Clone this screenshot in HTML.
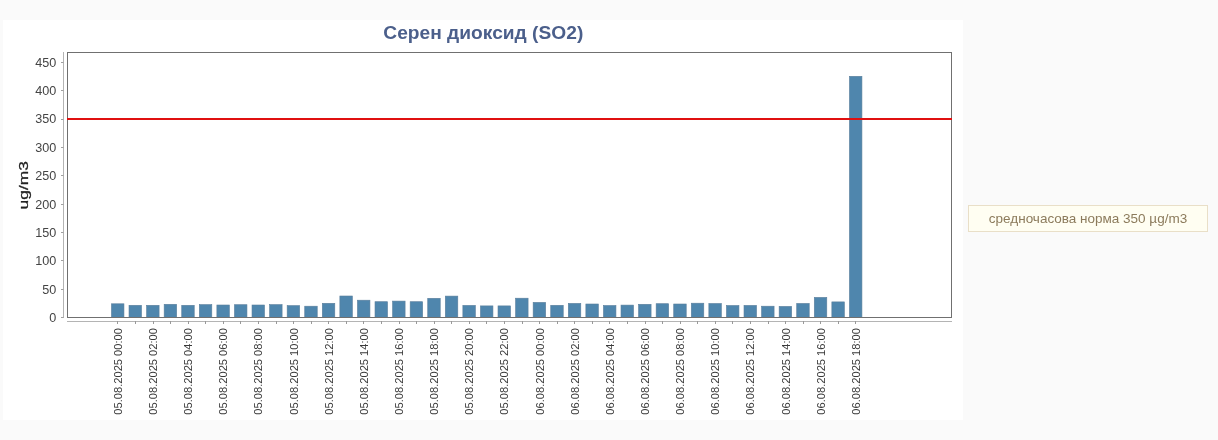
<!DOCTYPE html>
<html lang="bg">
<head>
<meta charset="utf-8">
<title>Серен диоксид (SO2)</title>
<style>
html,body{margin:0;padding:0;}
body{width:1218px;height:440px;overflow:hidden;background:#fafafa;position:relative;font-family:"Liberation Sans",sans-serif;}
#chart{position:absolute;left:3px;top:20px;width:960px;height:400px;background:#fff;}
svg{position:absolute;left:0;top:0;will-change:transform;}
svg text{font-family:"Liberation Sans",sans-serif;}
#legend{position:absolute;left:968px;top:205px;width:238px;height:25px;border:1px solid #e9dfc8;background:#fffef2;color:#8c7b5c;font-size:13.5px;line-height:25px;text-align:center;white-space:nowrap;will-change:transform;}
</style>
</head>
<body>
<div id="chart"></div>
<svg width="1218" height="440" viewBox="0 0 1218 440">
<text x="383.3" y="38.6" textLength="200" lengthAdjust="spacingAndGlyphs" font-size="17.5" font-weight="bold" fill="#4b5f8b">Серен диоксид (SO2)</text>
<g fill="#4f86ad" stroke="#5b7f9c" stroke-width="0.6">
<rect x="111.45" y="303.80" width="12.5" height="13.70"/>
<rect x="129.02" y="305.30" width="12.5" height="12.20"/>
<rect x="146.59" y="305.30" width="12.5" height="12.20"/>
<rect x="164.16" y="304.30" width="12.5" height="13.20"/>
<rect x="181.73" y="305.30" width="12.5" height="12.20"/>
<rect x="199.31" y="304.60" width="12.5" height="12.90"/>
<rect x="216.88" y="305.00" width="12.5" height="12.50"/>
<rect x="234.45" y="304.70" width="12.5" height="12.80"/>
<rect x="252.02" y="305.00" width="12.5" height="12.50"/>
<rect x="269.59" y="304.60" width="12.5" height="12.90"/>
<rect x="287.16" y="305.60" width="12.5" height="11.90"/>
<rect x="304.73" y="306.20" width="12.5" height="11.30"/>
<rect x="322.30" y="303.30" width="12.5" height="14.20"/>
<rect x="339.87" y="296.00" width="12.5" height="21.50"/>
<rect x="357.44" y="300.20" width="12.5" height="17.30"/>
<rect x="375.01" y="301.70" width="12.5" height="15.80"/>
<rect x="392.59" y="301.10" width="12.5" height="16.40"/>
<rect x="410.16" y="301.70" width="12.5" height="15.80"/>
<rect x="427.73" y="298.30" width="12.5" height="19.20"/>
<rect x="445.30" y="296.10" width="12.5" height="21.40"/>
<rect x="462.87" y="305.40" width="12.5" height="12.10"/>
<rect x="480.44" y="305.90" width="12.5" height="11.60"/>
<rect x="498.01" y="305.90" width="12.5" height="11.60"/>
<rect x="515.58" y="298.20" width="12.5" height="19.30"/>
<rect x="533.15" y="302.40" width="12.5" height="15.10"/>
<rect x="550.73" y="305.30" width="12.5" height="12.20"/>
<rect x="568.30" y="303.40" width="12.5" height="14.10"/>
<rect x="585.87" y="304.00" width="12.5" height="13.50"/>
<rect x="603.44" y="305.50" width="12.5" height="12.00"/>
<rect x="621.01" y="305.10" width="12.5" height="12.40"/>
<rect x="638.58" y="304.30" width="12.5" height="13.20"/>
<rect x="656.15" y="303.70" width="12.5" height="13.80"/>
<rect x="673.72" y="304.00" width="12.5" height="13.50"/>
<rect x="691.29" y="303.20" width="12.5" height="14.30"/>
<rect x="708.86" y="303.50" width="12.5" height="14.00"/>
<rect x="726.44" y="305.50" width="12.5" height="12.00"/>
<rect x="744.01" y="305.40" width="12.5" height="12.10"/>
<rect x="761.58" y="306.20" width="12.5" height="11.30"/>
<rect x="779.15" y="306.40" width="12.5" height="11.10"/>
<rect x="796.72" y="303.45" width="12.5" height="14.05"/>
<rect x="814.29" y="297.40" width="12.5" height="20.10"/>
<rect x="831.86" y="301.90" width="12.5" height="15.60"/>
<rect x="849.43" y="76.30" width="12.5" height="241.20"/>
</g>
<rect x="67.5" y="52.5" width="884" height="265" fill="none" stroke="#707070" stroke-width="1"/>
<line x1="67" y1="119" x2="952" y2="119" stroke="#e01010" stroke-width="2"/>
<path d="M63.5 52v266" stroke="#b4b4b4" stroke-width="1" fill="none"/>
<path d="M67 321.5h885" stroke="#b4b4b4" stroke-width="1" fill="none"/>
<path d="M61 317.5h2.5 M61 289.5h2.5 M61 260.5h2.5 M61 232.5h2.5 M61 204.5h2.5 M61 175.5h2.5 M61 147.5h2.5 M61 119.5h2.5 M61 90.5h2.5 M61 62.5h2.5" stroke="#a0a0a0" stroke-width="1" fill="none"/>
<path d="M117.5 321v3 M135.5 321v3 M153.5 321v3 M170.5 321v3 M188.5 321v3 M205.5 321v3 M223.5 321v3 M240.5 321v3 M258.5 321v3 M276.5 321v3 M293.5 321v3 M311.5 321v3 M328.5 321v3 M346.5 321v3 M363.5 321v3 M381.5 321v3 M399.5 321v3 M416.5 321v3 M434.5 321v3 M451.5 321v3 M469.5 321v3 M486.5 321v3 M504.5 321v3 M522.5 321v3 M539.5 321v3 M557.5 321v3 M574.5 321v3 M592.5 321v3 M609.5 321v3 M627.5 321v3 M645.5 321v3 M662.5 321v3 M680.5 321v3 M697.5 321v3 M715.5 321v3 M732.5 321v3 M750.5 321v3 M768.5 321v3 M785.5 321v3 M803.5 321v3 M820.5 321v3 M838.5 321v3 M855.5 321v3" stroke="#999" stroke-width="1" fill="none"/>
<g font-size="12.6" fill="#444">
<text x="56.3" y="321.90" text-anchor="end">0</text>
<text x="56.3" y="293.56" text-anchor="end">50</text>
<text x="56.3" y="265.21" text-anchor="end">100</text>
<text x="56.3" y="236.87" text-anchor="end">150</text>
<text x="56.3" y="208.52" text-anchor="end">200</text>
<text x="56.3" y="180.18" text-anchor="end">250</text>
<text x="56.3" y="151.83" text-anchor="end">300</text>
<text x="56.3" y="123.49" text-anchor="end">350</text>
<text x="56.3" y="95.14" text-anchor="end">400</text>
<text x="56.3" y="66.80" text-anchor="end">450</text>
</g>
<g font-size="11.15" fill="#3a3a3a">
<text transform="translate(121.90 328) rotate(-90)" text-anchor="end">05.08.2025 00:00</text>
<text transform="translate(157.04 328) rotate(-90)" text-anchor="end">05.08.2025 02:00</text>
<text transform="translate(192.18 328) rotate(-90)" text-anchor="end">05.08.2025 04:00</text>
<text transform="translate(227.33 328) rotate(-90)" text-anchor="end">05.08.2025 06:00</text>
<text transform="translate(262.47 328) rotate(-90)" text-anchor="end">05.08.2025 08:00</text>
<text transform="translate(297.61 328) rotate(-90)" text-anchor="end">05.08.2025 10:00</text>
<text transform="translate(332.75 328) rotate(-90)" text-anchor="end">05.08.2025 12:00</text>
<text transform="translate(367.89 328) rotate(-90)" text-anchor="end">05.08.2025 14:00</text>
<text transform="translate(403.04 328) rotate(-90)" text-anchor="end">05.08.2025 16:00</text>
<text transform="translate(438.18 328) rotate(-90)" text-anchor="end">05.08.2025 18:00</text>
<text transform="translate(473.32 328) rotate(-90)" text-anchor="end">05.08.2025 20:00</text>
<text transform="translate(508.46 328) rotate(-90)" text-anchor="end">05.08.2025 22:00</text>
<text transform="translate(543.60 328) rotate(-90)" text-anchor="end">06.08.2025 00:00</text>
<text transform="translate(578.75 328) rotate(-90)" text-anchor="end">06.08.2025 02:00</text>
<text transform="translate(613.89 328) rotate(-90)" text-anchor="end">06.08.2025 04:00</text>
<text transform="translate(649.03 328) rotate(-90)" text-anchor="end">06.08.2025 06:00</text>
<text transform="translate(684.17 328) rotate(-90)" text-anchor="end">06.08.2025 08:00</text>
<text transform="translate(719.31 328) rotate(-90)" text-anchor="end">06.08.2025 10:00</text>
<text transform="translate(754.46 328) rotate(-90)" text-anchor="end">06.08.2025 12:00</text>
<text transform="translate(789.60 328) rotate(-90)" text-anchor="end">06.08.2025 14:00</text>
<text transform="translate(824.74 328) rotate(-90)" text-anchor="end">06.08.2025 16:00</text>
<text transform="translate(859.88 328) rotate(-90)" text-anchor="end">06.08.2025 18:00</text>
</g>
<text transform="translate(27.9 209.4) rotate(-90)" textLength="48.3" lengthAdjust="spacingAndGlyphs" font-size="13.3" fill="#222" stroke="#222" stroke-width="0.25">ug/m3</text>
</svg>
<div id="legend">средночасова норма 350 µg/m3</div>
</body>
</html>
